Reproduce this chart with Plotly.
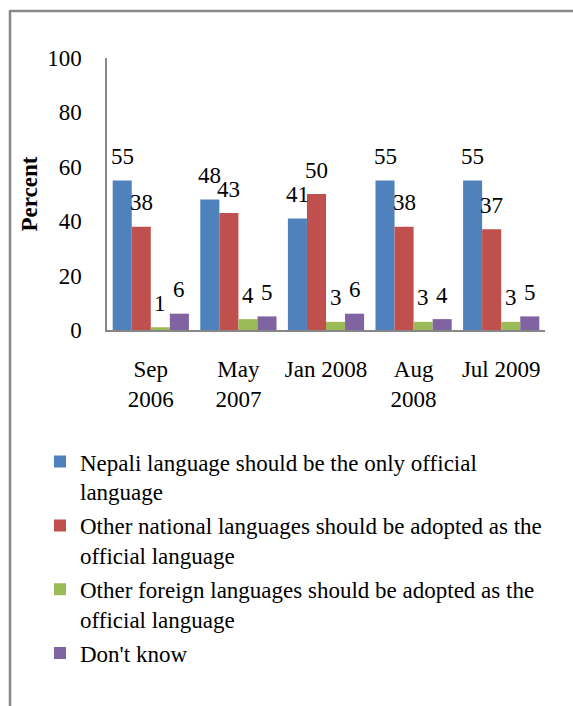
import plotly.graph_objects as go

# Survey waves (x categories)
waves = ["Sep<br>2006", "May<br>2007", "Jan 2008", "Aug<br>2008", "Jul 2009"]

# Responses (percent) for each wave
nepali_only = [55, 48, 41, 55, 55]
other_national = [38, 43, 50, 38, 37]
other_foreign = [1, 4, 3, 3, 3]
dont_know = [6, 5, 6, 4, 5]

series_names = [
    "Nepali language should be the only official<br>language",
    "Other national languages should be adopted as the<br>official language",
    "Other foreign languages should be adopted as the<br>official language",
    "Don't know",
]
series_values = [nepali_only, other_national, other_foreign, dont_know]
series_colors = ["#4F81BD", "#C0504D", "#9BBB59", "#8064A2"]

y_ticks = [0, 20, 40, 60, 80, 100]

FONT = "Liberation Serif"
FS = 23
BAR_GAP = 0.13

fig = go.Figure()
for name, vals, color in zip(series_names, series_values, series_colors):
    fig.add_trace(go.Bar(
        x=list(range(len(waves))), y=vals, name=name, legendgroup=name,
        marker=dict(color=color, line=dict(width=0)),
    ))

# Value labels sitting above each bar
n = len(series_values)
bar_w = (1 - BAR_GAP) / n
annotations = []
for k, vals in enumerate(series_values):
    off = (k - (n - 1) / 2) * bar_w
    for i, v in enumerate(vals):
        annotations.append(dict(
            x=i + off, y=v, xref="x", yref="y", text=str(v), showarrow=False,
            yanchor="middle", yshift=24, font=dict(family=FONT, size=FS, color="#000"),
        ))

line_col = "#878787"
shapes = [
    # outer frame: top and left edges
    dict(type="line", xref="paper", yref="paper", xsizemode="pixel", ysizemode="pixel",
         xanchor=0, yanchor=1, x0=-97, x1=466, y0=47, y1=47,
         line=dict(color=line_col, width=2.5)),
    dict(type="line", xref="paper", yref="paper", xsizemode="pixel", ysizemode="pixel",
         xanchor=0, yanchor=1, x0=-97, x1=-97, y0=48, y1=-660,
         line=dict(color=line_col, width=2.5)),
]

fig.update_layout(
    width=573, height=706,
    margin=dict(l=107, r=28, t=58, b=376),
    paper_bgcolor="white", plot_bgcolor="white",
    barmode="group", bargap=BAR_GAP, bargroupgap=0,
    font=dict(family=FONT, size=FS, color="#000"),
    showlegend=True,
    legend=dict(
        x=-0.153, xanchor="left", y=-0.405, yanchor="top",
        font=dict(family=FONT, size=FS, color="#000"),
        valign="top", tracegroupgap=1, itemwidth=30,
        bgcolor="rgba(0,0,0,0)",
    ),
    annotations=annotations,
    shapes=shapes,
)
fig.update_xaxes(
    tickmode="array", tickvals=list(range(len(waves))), ticktext=waves,
    range=[-0.5, len(waves) - 0.5],
    showline=True, linecolor=line_col, linewidth=2, showgrid=False, zeroline=False,
    ticks="", ticklabelstandoff=17,
    tickfont=dict(family=FONT, size=FS, color="#000"),
)
fig.update_yaxes(
    range=[0, 100], tickvals=y_ticks, showline=True, linecolor=line_col, linewidth=1.5,
    showgrid=False, zeroline=False, ticks="", ticklabelstandoff=19,
    tickfont=dict(family=FONT, size=FS, color="#000"),
    title=dict(text="<b>Percent</b>", standoff=3, font=dict(family=FONT, size=FS, color="#000")),
)

fig.write_html("out.html")
